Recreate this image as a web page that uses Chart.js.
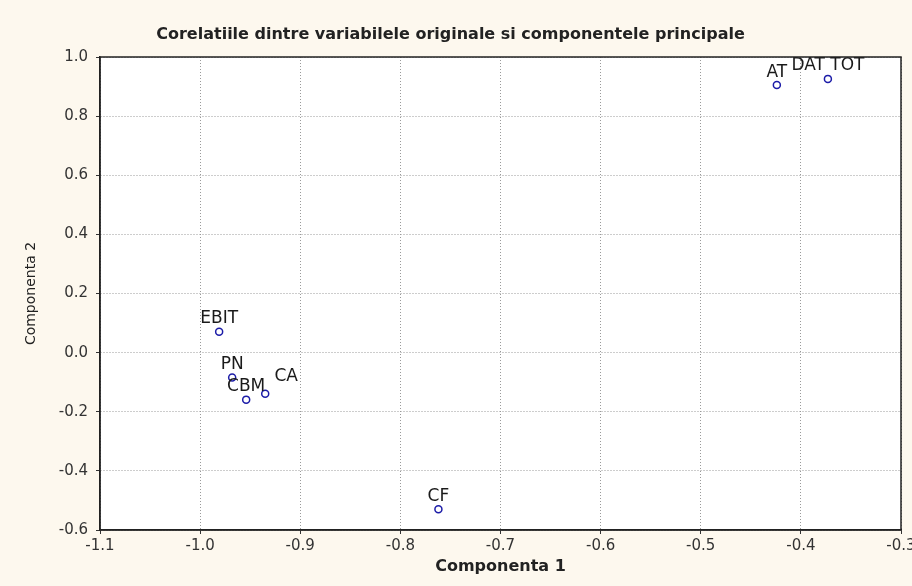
<!DOCTYPE html>
<html>
<head>
<meta charset="utf-8">
<script src="https://cdn.jsdelivr.net/npm/chart.js@4.4.1/dist/chart.umd.min.js"></script>
<style>
  html, body { margin: 0; padding: 0; background: #fdf8ee; }
  #wrap { width: 912px; height: 586px; }
</style>
</head>
<body>
<div id="wrap"><canvas id="pcaChart" width="912" height="586"></canvas></div>
<script>
// Variable names and their correlations with the two principal components
const varNames = ["EBIT", "PN", "CBM", "CA", "CF", "AT", "DAT TOT"];
const comp1 = [-0.981, -0.968, -0.954, -0.935, -0.762, -0.424, -0.373];
const comp2 = [0.071, -0.084, -0.159, -0.139, -0.530, 0.905, 0.926];

const xTicks = [-1.1, -1.0, -0.9, -0.8, -0.7, -0.6, -0.5, -0.4, -0.3];
const yTicks = [-0.6, -0.4, -0.2, 0.0, 0.2, 0.4, 0.6, 0.8, 1.0];

const chartTitle = "Corelatiile dintre variabilele originale si componentele principale";

const FONT = "'DejaVu Sans', 'Liberation Sans', Arial, sans-serif";

document.addEventListener("DOMContentLoaded", () => {
  const points = varNames.map((n, i) => ({ x: comp1[i], y: comp2[i] }));

  // cream page, white plot area, black frame
  const backgroundPlugin = {
    id: "bg",
    beforeDraw(chart) {
      const { ctx, chartArea: a } = chart;
      ctx.save();
      ctx.fillStyle = "#fdf8ee";
      ctx.fillRect(0, 0, chart.width, chart.height);
      ctx.fillStyle = "#ffffff";
      ctx.fillRect(a.left, a.top, a.right - a.left, a.bottom - a.top);
      ctx.restore();
    },
    afterDraw(chart) {
      const { ctx, chartArea: a } = chart;
      ctx.save();
      ctx.strokeStyle = "#222";
      ctx.lineWidth = 1.5;
      ctx.strokeRect(a.left, a.top, a.right - a.left, a.bottom - a.top);
      ctx.restore();
    },
  };

  // text labels above each point
  const labelShift = { CA: [21, -17] };
  const pointLabels = {
    id: "pointLabels",
    afterDatasetsDraw(chart) {
      const { ctx } = chart;
      const meta = chart.getDatasetMeta(0);
      ctx.save();
      ctx.font = "17px " + FONT;
      ctx.fillStyle = "#1a1a1a";
      ctx.textAlign = "center";
      ctx.textBaseline = "middle";
      meta.data.forEach((el, i) => {
        const name = varNames[i];
        const [dx, dy] = labelShift[name] || [0, -13];
        ctx.fillText(name, el.x + dx, el.y + dy);
      });
      ctx.restore();
    },
  };

  new Chart(document.getElementById("pcaChart").getContext("2d"), {
    type: "scatter",
    data: {
      datasets: [
        {
          data: points,
          pointStyle: "circle",
          pointRadius: 3.5,
          pointHoverRadius: 3.5,
          borderColor: "#1c1ca8",
          backgroundColor: "rgba(0,0,0,0)",
          pointBorderWidth: 1.5,
        },
      ],
    },
    options: {
      responsive: false,
      devicePixelRatio: 1,
      animation: false,
      layout: { padding: { left: 0, right: 11, top: 0, bottom: 0 } },
      plugins: {
        legend: { display: false },
        tooltip: { enabled: false },
        title: {
          display: true,
          text: chartTitle,
          color: "#222",
          font: { family: FONT, size: 16, weight: "bold" },
          padding: { top: 25, bottom: 12.8 },
        },
      },
      scales: {
        x: {
          type: "linear",
          min: xTicks[0],
          max: xTicks[xTicks.length - 1],
          afterBuildTicks: (s) => { s.ticks = xTicks.map((v) => ({ value: v })); },
          afterFit: (s) => { s.height = 56; s.paddingLeft = 0; s.paddingRight = 0; },
          ticks: {
            color: "#333",
            font: { family: FONT, size: 15 },
            padding: 3,
            maxRotation: 0,
            autoSkip: false,
            callback: (v) => Number(v).toFixed(1),
          },
          grid: { color: "#9a9a9a", lineWidth: 1, tickColor: "#333", tickLength: 4 },
          border: { display: true, color: "#222", width: 1.5, dash: [1, 2] },
          title: {
            display: true,
            text: "Componenta 1",
            color: "#222",
            font: { family: FONT, size: 16, weight: "bold" },
            padding: { top: 0, bottom: 9.4 },
          },
        },
        y: {
          type: "linear",
          min: yTicks[0],
          max: yTicks[yTicks.length - 1],
          afterBuildTicks: (s) => { s.ticks = yTicks.map((v) => ({ value: v })); },
          afterFit: (s) => { s.width = 100; },
          ticks: {
            color: "#333",
            font: { family: FONT, size: 15 },
            padding: 8,
            autoSkip: false,
            callback: (v) => Number(v).toFixed(1),
          },
          grid: { color: "#9a9a9a", lineWidth: 1, tickColor: "#333", tickLength: 4 },
          border: { display: true, color: "#222", width: 1.5, dash: [1, 2] },
          title: {
            display: true,
            text: "Componenta 2",
            color: "#222",
            font: { family: FONT, size: 14 },
            padding: { top: 22.6, bottom: 0 },
          },
        },
      },
    },
    plugins: [backgroundPlugin, pointLabels],
  });
});
</script>
</body>
</html>
